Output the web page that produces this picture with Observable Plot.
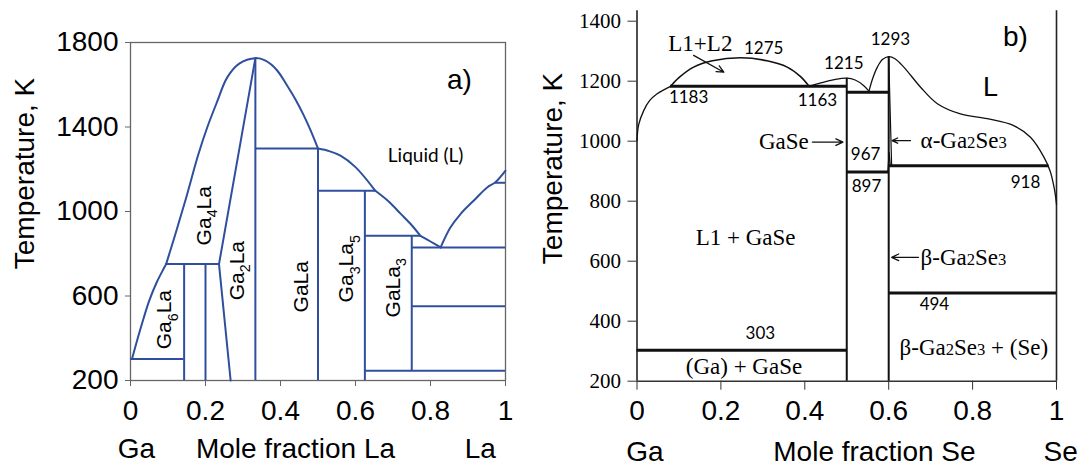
<!DOCTYPE html>
<html><head><meta charset="utf-8">
<script src="https://cdn.jsdelivr.net/npm/d3@7"></script>
<script src="https://cdn.jsdelivr.net/npm/@observablehq/plot@0.6"></script>
<style>
html,body{margin:0;padding:0;background:#fff;}
#wrap{position:relative;width:1083px;height:466px;overflow:hidden;background:#fff;}
#a{position:absolute;left:0;top:0;}
#b{position:absolute;left:540px;top:0;}
</style></head><body><div id="wrap"><div id="a"></div><div id="b"></div></div>
<script>
// ================= Panel a) Ga–La =================
const gaLaTicksX = [0, 0.2, 0.4, 0.6, 0.8, 1];
const gaLaTicksY = [200, 600, 1000, 1400, 1800];
const gaLaLiqGa6 = [[0.004,302],[0.02,405],[0.035,495],[0.05,578],[0.07,665],[0.095,751]];
const gaLaLiqPeak = [[0.095,751],[0.12,895],[0.15,1075],[0.18,1265],[0.205,1400],[0.23,1515],[0.258,1635],[0.29,1700],[0.333,1726],[0.36,1714],[0.39,1670],[0.418,1595],[0.44,1530],[0.462,1455],[0.48,1385],[0.5,1298]];
const gaLaLiqGaLa = [[0.5,1298],[0.53,1286],[0.56,1264],[0.6,1210],[0.653,1098]];
const gaLaLiqGa3La5 = [[0.653,1098],[0.69,1045],[0.72,990],[0.75,935],[0.773,885]];
const gaLaLiqGaLa3 = [[0.773,885],[0.8,858],[0.827,830]];
const gaLaLiqLa = [[0.827,830],[0.853,924],[0.88,988],[0.915,1051],[0.951,1114],[0.973,1138],[1,1193]];
const gaLaGa2LaLeft = [[0.236,751],[0.333,1726]];
const gaLaGa2LaRight = [[0.236,751],[0.267,200]];
const gaLaIsoT  = [302, 751, 1298, 1098, 885, 830, 552, 246, 1136];
const gaLaIsoX1 = [0, 0.095, 0.333, 0.5, 0.625, 0.75, 0.75, 0.625, 0.973];
const gaLaIsoX2 = [0.143, 0.236, 0.5, 0.653, 0.773, 1, 1, 1, 1];
const gaLaVertX = [0.143, 0.2, 0.333, 0.5, 0.625, 0.75];
const gaLaVertLo = [200, 200, 200, 200, 200, 246];
const gaLaVertHi = [751, 751, 1726, 1298, 1098, 885];
const gaLaPhases = ["Ga_{6}La", "Ga_{4}La", "Ga_{2}La", "GaLa", "Ga_{3}La_{5}", "GaLa_{3}"];
const gaLaPhaseX = [0.091, 0.197, 0.285, 0.456, 0.576, 0.701];
const gaLaPhaseT = [488, 980, 720, 644, 729, 639];
const gaLaLiquidLabel = ["Liquid (L)"];
const gaLaPanel = ["a)"];
const gaLaXLabels = ["Ga", "Mole fraction La", "La"];
const gaLaXLabelX = [0.016, 0.44, 0.933];
const yTitle = ["Temperature, K"];

// ================= Panel b) Ga–Se =================
const gaSeTicksX = [0, 0.2, 0.4, 0.6, 0.8, 1];
const gaSeTicksY = [200, 400, 600, 800, 1000, 1200, 1400];
const gaSeLiqGa = [[0,1002],[0.004,1055],[0.016,1102],[0.03,1135],[0.048,1158],[0.08,1183]];
const gaSeDome = [[0.08,1183],[0.1,1212],[0.135,1247],[0.18,1268],[0.247,1278],[0.31,1268],[0.358,1247],[0.39,1215],[0.41,1183]];
const gaSeLiqGaSe = [[0.41,1183],[0.44,1195],[0.47,1205],[0.5,1210],[0.52,1204],[0.54,1186],[0.553,1167]];
const gaSeLiqSe = [[0.553,1167],[0.562,1210],[0.573,1247],[0.585,1272],[0.6,1282],[0.615,1275],[0.636,1247],[0.676,1180],[0.716,1125],[0.771,1091],[0.835,1075],[0.898,1052],[0.938,1013],[0.97,947],[0.985,900],[0.995,840],[1,790]];
const gaSeTent = [[0.6,1282],[0.607,918]];
const gaSeSpike = [[0.598,900],[0.601,962],[0.604,918]];
const gaSeIsoT  = [303, 1183, 1163, 897, 918, 494];
const gaSeIsoX1 = [0, 0.08, 0.5, 0.5, 0.6, 0.6];
const gaSeIsoX2 = [0.5, 0.5, 0.6, 0.6, 0.982, 1];
const gaSeVertX = [0.5, 0.6];
const gaSeVertHi = [1210, 1282];
const gaSeArrowX1 = [0.135, 0.418, 0.652, 0.671];
const gaSeArrowT1 = [1286, 997, 1002, 613];
const gaSeArrowX2 = [0.207, 0.491, 0.608, 0.607];
const gaSeArrowT2 = [1230, 997, 1002, 613];
const gaSePhasesMid = ["L1+L2", "GaSe", "L1 + GaSe", "(Ga) + GaSe", "β-Ga{2}Se{3} + (Se)"];
const gaSePhasesMidX = [0.151, 0.35, 0.259, 0.255, 0.803];
const gaSePhasesMidT = [1325, 997, 679, 247, 313];
const gaSePhasesStart = ["α-Ga{2}Se{3}", "β-Ga{2}Se{3}"];
const gaSePhasesStartX = [0.676, 0.676];
const gaSePhasesStartT = [1002, 613];
const gaSeTemps = ["1275", "1215", "1293", "1183", "1163", "967", "897", "918", "303", "494"];
const gaSeTempX = [0.302, 0.493, 0.604, 0.123, 0.43, 0.545, 0.547, 0.926, 0.294, 0.709];
const gaSeTempT = [1308, 1258, 1338, 1147, 1136, 955, 849, 863, 358, 456];
const gaSeLiquid = ["L"];
const gaSePanel = ["b)"];
const gaSeXLabels = ["Ga", "Mole fraction Se", "Se"];
const gaSeXLabelX = [0.019, 0.566, 1.01];

const SANS = "Liberation Sans, Arial, sans-serif";
const SERIF = "Liberation Serif, Times New Roman, serif";
const HUMAN = "Lato, Open Sans, sans-serif";
const BLUE = "#2f4f9e";
const px = d => d[0], py = d => d[1];

const blueLine = arr => Plot.line(arr, {x: px, y: py, curve: "catmull-rom", stroke: BLUE, strokeWidth: 2});

const chartA = Plot.plot({
  width: 540, height: 466,
  marginLeft: 130, marginRight: 35, marginTop: 42, marginBottom: 86,
  style: {fontFamily: SANS, fontSize: "28px", color: "#000", background: "transparent", overflow: "visible"},
  x: {domain: [0, 1]},
  y: {domain: [200, 1800]},
  marks: [
    Plot.frame({stroke: "#666", strokeWidth: 1.3}),
    blueLine(gaLaLiqGa6), blueLine(gaLaLiqPeak), blueLine(gaLaLiqGaLa),
    blueLine(gaLaLiqGa3La5), blueLine(gaLaLiqGaLa3), blueLine(gaLaLiqLa),
    blueLine(gaLaGa2LaLeft), blueLine(gaLaGa2LaRight),
    Plot.ruleY(gaLaIsoT, {y: d => d, x1: gaLaIsoX1, x2: gaLaIsoX2, stroke: BLUE, strokeWidth: 2}),
    Plot.ruleX(gaLaVertX, {x: d => d, y1: gaLaVertLo, y2: gaLaVertHi, stroke: BLUE, strokeWidth: 2}),
    Plot.axisX(gaLaTicksX, {tickSize: 6, tickFormat: () => "", stroke: "#666", label: null}),
    Plot.axisX(gaLaTicksX, {tickSize: 0, tickPadding: 20, tickFormat: d => String(d), fontSize: 28, label: null}),
    Plot.axisY(gaLaTicksY, {tickSize: 5, tickFormat: () => "", stroke: "#666", label: null}),
    Plot.axisY(gaLaTicksY, {tickSize: 0, tickPadding: 12, tickFormat: d => String(d), fontSize: 28, label: null}),
    Plot.text(gaLaPhases, {x: gaLaPhaseX, y: gaLaPhaseT, text: d => d, rotate: -90, fontSize: 21, fontFamily: SANS, fill: "#000"}),
    Plot.text(gaLaLiquidLabel, {x: [0.787], y: [1264], text: d => d, fontSize: 19, fontFamily: HUMAN, fill: "#000"}),
    Plot.text(gaLaPanel, {x: [0.877], y: [1623], text: d => d, fontSize: 28, fontFamily: SANS, fill: "#000"}),
    Plot.text(yTitle, {frameAnchor: "left", textAnchor: "middle", lineAnchor: "middle", text: d => d, rotate: -90, dx: -105, dy: -38, fontSize: 28, fontFamily: SANS, fill: "#000"}),
    Plot.text(gaLaXLabels, {x: gaLaXLabelX, frameAnchor: "bottom", lineAnchor: "middle", text: d => d, dy: 69, fontSize: 28, fontFamily: SANS, fill: "#000"})
  ]
});

const blackLine = (arr, w) => Plot.line(arr, {x: px, y: py, curve: "catmull-rom", stroke: "#111", strokeWidth: w});

const chartB = Plot.plot({
  width: 543, height: 466,
  marginLeft: 96.5, marginRight: 27, marginTop: 10.2, marginBottom: 85.3,
  style: {fontFamily: SANS, fontSize: "28px", color: "#000", background: "transparent", overflow: "visible"},
  x: {domain: [0, 1]},
  y: {domain: [200, 1435]},
  marks: [
    Plot.ruleX([0, 1], {stroke: "#222", strokeWidth: 1.6}),
    Plot.ruleY([200], {stroke: "#333", strokeWidth: 1.6}),
    blackLine(gaSeLiqGa, 1.3), blackLine(gaSeDome, 1.6), blackLine(gaSeLiqGaSe, 1.3), blackLine(gaSeLiqSe, 1.3),
    Plot.line(gaSeTent, {x: px, y: py, stroke: "#111", strokeWidth: 1.2}),
    Plot.line(gaSeSpike, {x: px, y: py, stroke: "#111", strokeWidth: 1.2}),
    Plot.ruleY(gaSeIsoT, {y: d => d, x1: gaSeIsoX1, x2: gaSeIsoX2, stroke: "#111", strokeWidth: 3}),
    Plot.ruleX(gaSeVertX, {x: d => d, y1: 200, y2: gaSeVertHi, stroke: "#111", strokeWidth: 2}),
    Plot.arrow(gaSeArrowX1, {x1: d => d, y1: gaSeArrowT1, x2: gaSeArrowX2, y2: gaSeArrowT2, stroke: "#111", strokeWidth: 1.3, headLength: 9, headAngle: 50}),
    Plot.axisX(gaSeTicksX, {tickSize: 9, tickFormat: () => "", stroke: "#333", label: null}),
    Plot.axisX(gaSeTicksX, {tickSize: 0, tickPadding: 19, tickFormat: d => String(d), fontSize: 28, label: null}),
    Plot.axisY(gaSeTicksY, {tickSize: 9, tickFormat: () => "", stroke: "#333", label: null}),
    Plot.axisY(gaSeTicksY, {tickSize: 0, tickPadding: 16, tickFormat: d => String(d), fontSize: 21, fontFamily: SERIF, label: null}),
    Plot.text(gaSePhasesMid, {x: gaSePhasesMidX, y: gaSePhasesMidT, text: d => d, fontSize: 23, fontFamily: SERIF, fill: "#000"}),
    Plot.text(gaSePhasesStart, {x: gaSePhasesStartX, y: gaSePhasesStartT, text: d => d, textAnchor: "start", fontSize: 23, fontFamily: SERIF, fill: "#000"}),
    Plot.text(gaSeTemps, {x: gaSeTempX, y: gaSeTempT, text: d => d, fontSize: 17, fontFamily: HUMAN, fill: "#000"}),
    Plot.text(gaSeLiquid, {x: [0.843], y: [1180], text: d => d, fontSize: 27, fontFamily: SANS, fill: "#000"}),
    Plot.text(gaSePanel, {x: [0.902], y: [1347], text: d => d, fontSize: 28, fontFamily: SANS, fill: "#000"}),
    Plot.text(yTitle, {frameAnchor: "left", textAnchor: "middle", lineAnchor: "middle", text: d => d, rotate: -90, dx: -83.5, dy: -27.5, fontSize: 28, fontFamily: SANS, fill: "#000"}),
    Plot.text(gaSeXLabels, {x: gaSeXLabelX, frameAnchor: "bottom", lineAnchor: "middle", text: d => d, dy: 71, fontSize: 28, fontFamily: SANS, fill: "#000"})
  ]
});

document.getElementById("a").appendChild(chartA);
document.getElementById("b").appendChild(chartB);

// render "_{n}" as lowered subscripts and "{n}" as small inline digits
function rich(root) {
  root.querySelectorAll("text").forEach(t => {
    const s = t.textContent;
    if (!s.includes("{")) return;
    const fs = parseFloat(getComputedStyle(t).fontSize);
    const parts = s.split(/(_?\{[^}]*\})/).filter(p => p !== "");
    while (t.firstChild) t.removeChild(t.firstChild);
    let shift = 0;
    for (const p of parts) {
      const ts = document.createElementNS("http://www.w3.org/2000/svg", "tspan");
      const m = p.match(/^(_?)\{([^}]*)\}$/);
      if (m) {
        ts.textContent = m[2];
        ts.setAttribute("font-size", (fs * (m[1] ? 0.68 : 0.72)).toFixed(1));
        const want = m[1] ? fs * 0.3 : 0;
        ts.setAttribute("dy", (want - shift).toFixed(1));
        shift = want;
      } else {
        ts.textContent = p;
        ts.setAttribute("dy", (-shift).toFixed(1));
        shift = 0;
      }
      t.appendChild(ts);
    }
  });
}
rich(chartA);
rich(chartB);
</script>
</body></html>
